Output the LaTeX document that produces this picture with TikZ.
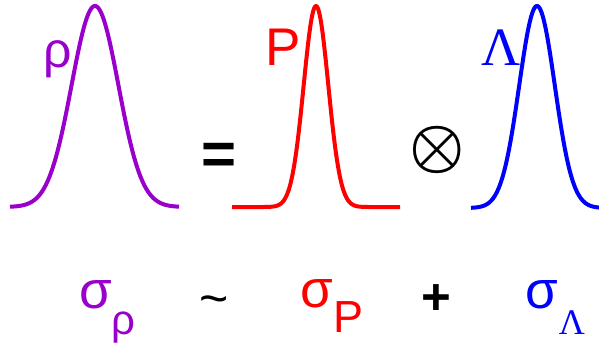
\documentclass[tikz,border=0pt]{standalone}
\usepackage{graphicx}
\usepackage{fontspec}
\setmainfont{Liberation Sans}
\newfontfamily\serifgr{Liberation Serif}
\definecolor{rhoC}{RGB}{153,0,204}
\definecolor{pC}{RGB}{255,0,0}
\definecolor{lC}{RGB}{0,0,255}
\tikzset{
  lab/.style={inner sep=0pt, outer sep=0pt, anchor=base},
  curve/.style={line width=4pt, line join=round, smooth}
}
\newcommand{\fs}[1]{\fontsize{#1}{#1}\selectfont}
\begin{document}
\begin{tikzpicture}[x=1pt,y=-1pt]
\useasboundingbox (0,0) rectangle (599,346);
% gaussians
\draw[curve, rhoC] plot[domain=10:179, samples=160] (\x, {207-201*exp(-((\x-95)/23.4)^2/2)});
\draw[curve, pC] plot[domain=232:400, samples=200] (\x, {207-201*exp(-((\x-316)/12.3)^2/2)});
\draw[curve, lC] plot[domain=471:602, samples=160] (\x, {208-202*exp(-((\x-537)/17.8)^2/2)});
% top labels
\node[lab, text=rhoC] (rhotop) at (57.5,67) {\fs{50}ρ};
\node[lab, text=pC] (ptop) at (283,65) {\fs{53}P};
\node[lab, text=lC] (ltop) at (501.5,65) {\serifgr\fs{54}Λ};
\node[lab] (eq) at (219.5,174) {\fs{60}\bfseries =};
\node[inner sep=0pt] (otimes) at (437,150) {\scalebox{6.2}{\fs{10}\boldmath$\otimes$}};
% bottom relation
\node[lab, text=rhoC] (sr) at (95.5,308) {\fs{53}σ};
\node[lab, text=rhoC] (srsub) at (123.5,334) {\fs{42}ρ};
\node[lab] (tilde) at (214,315) {\fs{50}\textasciitilde};
\node[lab, text=pC] (sp) at (317,307) {\fs{53}σ};
\node[lab, text=pC] (spsub) at (348.5,332) {\fs{45}P};
\node[lab] (plus) at (436,314) {\fs{51}\bfseries +};
\node[lab, text=lC] (sl) at (541.5,308) {\fs{53}σ};
\node[lab, text=lC] (slsub) at (572,334) {\serifgr\fs{36}Λ};
\end{tikzpicture}
\end{document}
